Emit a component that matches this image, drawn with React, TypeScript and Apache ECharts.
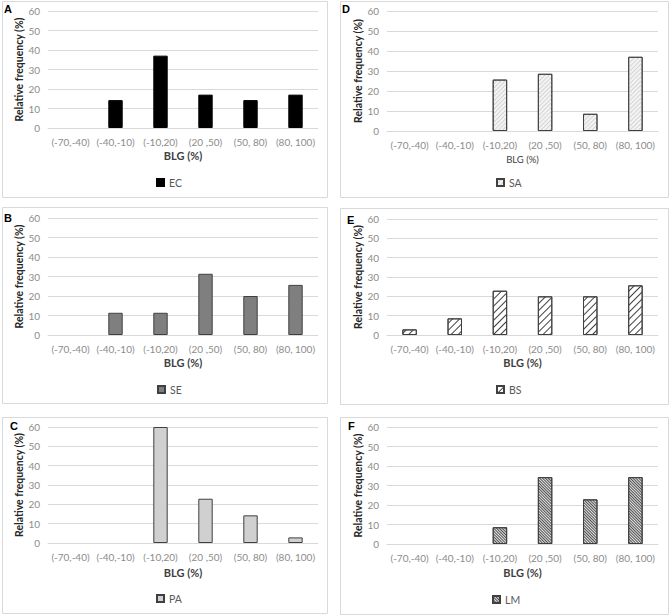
import React, { useEffect, useRef } from "react";
import * as echarts from "echarts";

const categories = ["(-70,-40)", "(-40,-10)", "(-10,20)", "(20 ,50)", "(50, 80)", "(80, 100)"];
const yMin = 0;
const yMax = 60;
const yStep = 10;

const ecValues = [0, 14.3, 37.1, 17.1, 14.3, 17.1];
const saValues = [0, 0, 25.7, 28.6, 8.6, 37.1];
const seValues = [0, 11.4, 11.4, 31.4, 20.0, 25.7];
const bsValues = [2.9, 8.6, 22.9, 20.0, 20.0, 25.7];
const paValues = [0, 0, 60.0, 22.9, 14.3, 2.9];
const lmValues = [0, 0, 8.6, 34.3, 22.9, 34.3];

const panelLetters = ["A", "D", "B", "E", "C", "F"];
const seriesNames = ["EC", "SA", "SE", "BS", "PA", "LM"];
const seriesValues = [ecValues, saValues, seValues, bsValues, paValues, lmValues];

const FONT = "Lato, Carlito, Calibri, 'Liberation Sans', sans-serif";

type Layout = {
  box: [number, number, number, number];
  grid: { left: number; top: number; width: number; height: number };
  letter: [number, number];
  legend: [number, number];
  xNameGap: number;
  yNameGap: number;
  xNameBold: boolean;
};

const layouts: Layout[] = [
  { box: [2, 1, 325, 196], grid: { left: 48, top: 11, width: 270, height: 117 }, letter: [4, 3], legend: [156, 177], xNameGap: 22, yNameGap: 22, xNameBold: true },
  { box: [340, 1, 328, 196], grid: { left: 387, top: 11, width: 271, height: 120 }, letter: [342, 3], legend: [496, 177], xNameGap: 23, yNameGap: 21, xNameBold: false },
  { box: [2, 207, 325, 196], grid: { left: 48, top: 218, width: 270, height: 117 }, letter: [4, 212], legend: [157, 384], xNameGap: 22, yNameGap: 22, xNameBold: true },
  { box: [340, 208, 328, 196], grid: { left: 387, top: 219, width: 271, height: 116 }, letter: [347, 214], legend: [496, 384], xNameGap: 22, yNameGap: 21, xNameBold: true },
  { box: [2, 417, 325, 196], grid: { left: 48, top: 427, width: 270, height: 116 }, letter: [10, 420], legend: [156, 593], xNameGap: 24, yNameGap: 22, xNameBold: true },
  { box: [340, 417, 328, 197], grid: { left: 387, top: 427, width: 271, height: 117 }, letter: [348, 420], legend: [492, 594], xNameGap: 23, yNameGap: 21, xNameBold: true },
];

const styles: any[] = [
  { color: "#000000", borderColor: "#000000", borderWidth: 1 },
  {
    color: "#f4f4f4", borderColor: "#404040", borderWidth: 1,
    decal: { symbol: "rect", symbolSize: 1, dashArrayX: [1, 0], dashArrayY: [1, 2], rotation: -Math.PI / 4, color: "#d4d4d4" },
  },
  { color: "#7f7f7f", borderColor: "#404040", borderWidth: 1 },
  {
    color: "#ffffff", borderColor: "#404040", borderWidth: 1,
    decal: { symbol: "rect", symbolSize: 1, dashArrayX: [1, 0], dashArrayY: [1, 4], rotation: -Math.PI / 4, color: "#404040" },
  },
  { color: "#d0d0d0", borderColor: "#404040", borderWidth: 1 },
  {
    color: "#e4e4e4", borderColor: "#404040", borderWidth: 1,
    decal: { symbol: "rect", symbolSize: 1, dashArrayX: [1, 0], dashArrayY: [1, 1], rotation: Math.PI / 4, color: "#505050" },
  },
];

export default function App() {
  const ref = useRef<HTMLDivElement>(null);
  useEffect(() => {
    if (!ref.current) return;
    const chart = echarts.init(ref.current, null, { renderer: "svg" });
    const graphics: any[] = [];
    layouts.forEach((l, i) => {
      graphics.push({
        type: "rect", z: -10, silent: true,
        shape: { x: l.box[0] + 0.5, y: l.box[1] + 0.5, width: l.box[2], height: l.box[3] },
        style: { fill: "#ffffff", stroke: "#d9d9d9", lineWidth: 1 },
      });
      graphics.push({
        type: "text", x: l.letter[0], y: l.letter[1],
        style: { text: panelLetters[i], fontFamily: "'Liberation Sans', Arial, sans-serif", fontWeight: "bold", fontSize: 11, fill: "#000" },
      });
    });
    const option: any = {
      animation: false,
      textStyle: { fontFamily: FONT },
      graphic: graphics,
      grid: layouts.map((l) => ({ ...l.grid, containLabel: false })),
      xAxis: layouts.map((l, i) => ({
        type: "category",
        gridIndex: i,
        data: categories,
        axisTick: { show: false },
        axisLine: { lineStyle: { color: "#d9d9d9" } },
        axisLabel: { interval: 0, color: "#8c8c8c", fontSize: 10, margin: 9, fontFamily: FONT },
        name: "BLG (%)",
        nameLocation: "middle",
        nameGap: l.xNameGap,
        nameTextStyle: { fontWeight: l.xNameBold ? "bold" : "normal", fontSize: l.xNameBold ? 11 : 9.5, color: "#404040", fontFamily: FONT },
      })),
      yAxis: layouts.map((l, i) => ({
        type: "value",
        gridIndex: i,
        min: yMin,
        max: yMax,
        interval: yStep,
        axisLine: { show: false },
        axisTick: { show: false },
        splitLine: { lineStyle: { color: "#d9d9d9" } },
        axisLabel: { color: "#8c8c8c", fontSize: 10, margin: 8, fontFamily: FONT },
        name: "Relative frequency (%)",
        nameLocation: "middle",
        nameRotate: 90,
        nameGap: l.yNameGap,
        nameTextStyle: { fontWeight: "bold", fontSize: 10.5, color: "#262626", fontFamily: FONT },
      })),
      legend: layouts.map((l, i) => ({
        data: [{ name: seriesNames[i], icon: "rect" }],
        left: l.legend[0],
        top: l.legend[1],
        padding: 0,
        itemWidth: 7,
        itemHeight: 7,
        itemGap: 5,
        textStyle: { color: "#595959", fontSize: 10.5, fontFamily: FONT },
      })),
      series: seriesValues.map((vals, i) => ({
        type: "bar",
        name: seriesNames[i],
        xAxisIndex: i,
        yAxisIndex: i,
        barWidth: "32%",
        data: vals.map((v) => (v === 0 ? "-" : v)),
        itemStyle: styles[i],
      })),
    };
    chart.setOption(option);
    return () => chart.dispose();
  }, []);
  return (
    <div
      ref={ref}
      style={{ position: "fixed", left: 0, top: 0, width: 669, height: 616, background: "#ffffff" }}
    />
  );
}
